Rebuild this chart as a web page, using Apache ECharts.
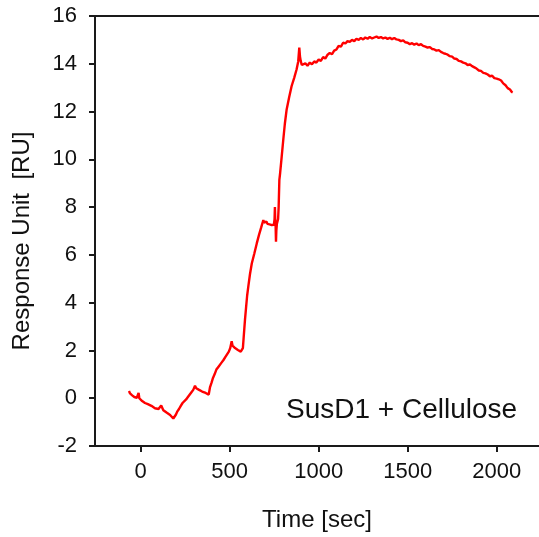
<!DOCTYPE html>
<html>
<head>
<meta charset="utf-8">
<script src="https://cdn.jsdelivr.net/npm/echarts@6/dist/echarts.min.js"></script>
<style>
html,body{margin:0;padding:0;background:#fff;}
#chart{width:539px;height:537px;}
</style>
</head>
<body>
<div id="chart"></div>
<script>
const timeSec = [-66,-60,-54,-48,-42,-36,-30,-22,-16,-12,-8,0,8,16,24,32,40,50,60,70,80,90,100,108,115,120,127,135,145,155,165,175,183,190,198,206,215,225,235,245,255,265,275,285,295,305,312,320,328,336,345,355,365,375,382,389,398,406,415,425,435,445,455,465,475,485,495,503,511,516,522,530,538,546,555,562,568,574,578,582,586,592,598,605,614,624,638,652,665,677,689,694,700,706,712,718,724,730,736,742,748,752,754,756,758,760,762,765,768,772,775,779,783,792,801,810,820,834,848,862,876,885,891,895,899,905,913,925,937,950,962,975,987,1000,1012,1025,1037,1050,1062,1075,1087,1100,1112,1125,1137,1150,1162,1175,1187,1200,1212,1225,1237,1250,1262,1275,1287,1300,1312,1325,1337,1350,1362,1375,1387,1400,1412,1425,1437,1450,1462,1475,1487,1500,1512,1525,1537,1550,1562,1575,1587,1600,1612,1625,1637,1650,1662,1675,1687,1700,1712,1725,1737,1750,1762,1775,1787,1800,1812,1825,1837,1850,1862,1875,1887,1900,1912,1925,1937,1950,1962,1975,1987,2000,2012,2025,2037,2050,2062,2075,2085,2090];
const responseRU = [0.3,0.2,0.25,0.12,0.18,0.05,0.1,0.02,0.05,0.22,0.0,-0.05,-0.12,-0.08,-0.2,-0.18,-0.25,-0.22,-0.32,-0.35,-0.42,-0.38,-0.45,-0.42,-0.3,-0.35,-0.5,-0.52,-0.6,-0.62,-0.7,-0.75,-0.85,-0.8,-0.68,-0.55,-0.45,-0.32,-0.2,-0.15,-0.05,0.05,0.12,0.25,0.35,0.52,0.42,0.4,0.35,0.32,0.28,0.3,0.22,0.2,0.15,0.45,0.65,0.85,1.0,1.2,1.3,1.38,1.5,1.6,1.72,1.8,1.95,2.1,2.38,2.2,2.15,2.1,2.12,2.02,2.0,1.95,1.9,2.1,2.5,2.9,3.3,3.8,4.3,4.7,5.2,5.64,6.05,6.48,6.85,7.15,7.46,7.35,7.32,7.4,7.3,7.36,7.28,7.33,7.25,7.32,7.26,7.5,8.0,7.4,7.2,6.55,7.0,7.3,7.32,7.5,8.0,9.14,9.4,10.1,10.82,11.5,12.09,12.6,13.07,13.4,13.77,14.1,14.68,14.3,14.12,13.95,13.9,14.02,13.92,14.05,13.98,14.1,14.05,14.18,14.12,14.28,14.22,14.38,14.45,14.4,14.55,14.6,14.75,14.72,14.88,14.85,14.95,14.92,15.0,14.95,15.05,15.0,15.08,15.02,15.1,15.05,15.12,15.06,15.1,15.14,15.08,15.12,15.06,15.1,15.04,15.09,15.03,15.08,15.02,15.0,14.95,14.98,14.9,14.88,14.82,14.86,14.8,14.85,14.78,14.82,14.75,14.72,14.68,14.7,14.62,14.6,14.55,14.57,14.5,14.45,14.42,14.38,14.32,14.3,14.22,14.2,14.12,14.1,14.05,14.02,13.95,13.97,13.9,13.85,13.8,13.72,13.7,13.62,13.6,13.55,13.48,13.5,13.4,13.38,13.35,13.3,13.18,13.1,12.98,12.92,12.82,12.8];
const xTicks = [0,500,1000,1500,2000];
const yTicks = [-2,0,2,4,6,8,10,12,14,16];
const annotation = 'SusD1 + Cellulose';
const yTitle = 'Response Unit  [RU]';

const chart = echarts.init(document.getElementById('chart'), null, {renderer:'canvas'});
const FONT = 'Liberation Sans, Arial, sans-serif';
const AX = {lineStyle:{color:'#1a1a1a', width:2}};
chart.setOption({
  animation:false,
  backgroundColor:'#fff',
  grid:{left:95, right:0, top:16, bottom:91, containLabel:false},
  xAxis:[{
    type:'value', min:-257, max:2238, position:'bottom',
    name:'Time [sec]', nameLocation:'middle', nameGap:62,
    nameTextStyle:{fontFamily:FONT, fontSize:24, color:'#111'},
    axisLine:{show:true, onZero:false, ...AX},
    axisTick:{show:true, length:6, customValues:xTicks, lineStyle:{color:'#1a1a1a', width:2}},
    axisLabel:{customValues:xTicks, formatter:v=>String(v), fontFamily:FONT, fontSize:22, color:'#111', margin:15},
    splitLine:{show:false}
  },{
    type:'value', min:-257, max:2238, position:'top',
    axisLine:{show:true, onZero:false, ...AX},
    axisTick:{show:false}, axisLabel:{show:false}, splitLine:{show:false}
  }],
  yAxis:{
    type:'value', min:-2, max:16, interval:2,
    axisLine:{show:true, onZero:false, ...AX},
    axisTick:{show:true, length:6, lineStyle:{color:'#1a1a1a', width:2}},
    axisLabel:{formatter:v=>String(v), fontFamily:FONT, fontSize:22, color:'#111', margin:18},
    splitLine:{show:false}
  },
  series:[{
    type:'line', xAxisIndex:0, showSymbol:false, symbol:'none',
    data: timeSec.map((t,i)=>[t, responseRU[i]]),
    lineStyle:{color:'#ff0000', width:2.4},
    z:5
  }],
  graphic:[{
    type:'text', left:286, top:396,
    style:{text:annotation, font:'28px Liberation Sans, Arial, sans-serif', fill:'#111'}
  },{
    type:'text', x:22, y:241, rotation:Math.PI/2,
    style:{text:yTitle, font:'24px Liberation Sans, Arial, sans-serif', fill:'#111', align:'center', verticalAlign:'middle'}
  }]
});
</script>
</body>
</html>
